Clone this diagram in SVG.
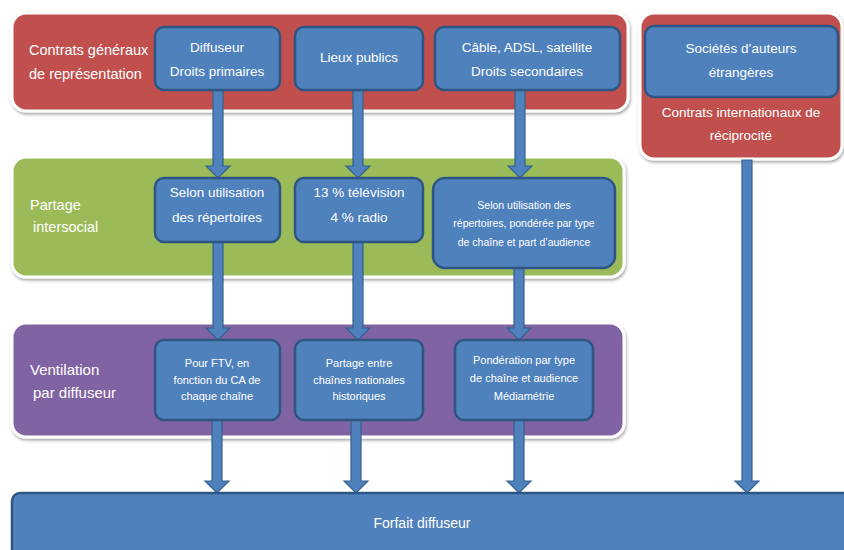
<svg xmlns="http://www.w3.org/2000/svg" width="844" height="550" viewBox="0 0 844 550">
<defs>
<filter id="sh" x="-5%" y="-5%" width="110%" height="115%">
<feDropShadow dx="1" dy="2" stdDeviation="1.5" flood-color="#000" flood-opacity="0.35"/>
</filter>
<style>
.band{stroke:#fff;stroke-width:3;filter:url(#sh)}
.red{fill:#C0504D}.green{fill:#9BBB59}.purple{fill:#8064A2}
.box{fill:#4F81BD;stroke:#2F5682;stroke-width:2.5}
.arr{fill:#4F81BD;stroke:#34608F;stroke-width:1.2}
text{font-family:"Liberation Sans",Arial,sans-serif;fill:#fff}
.lbl{font-size:14.5px}
.t13{font-size:13.5px;text-anchor:middle}
.t11{font-size:11px;text-anchor:middle}
.t10{font-size:10.5px;text-anchor:middle}
</style>
</defs>
<rect width="844" height="550" fill="#fff"/>
<g id="band-contrats">
<rect class="band red" x="12" y="13" width="616" height="98" rx="14"/>
<text class="lbl" x="29" y="55">Contrats généraux</text>
<text class="lbl" x="29" y="79">de représentation</text>
</g>
<g id="band-international">
<rect class="band red" x="640" y="13" width="202" height="146" rx="14"/>
<text class="t13" x="741" y="117">Contrats internationaux de</text>
<text class="t13" x="741" y="140">réciprocité</text>
</g>
<g id="band-partage">
<rect class="band green" x="12" y="157" width="612" height="120" rx="14"/>
<text class="lbl" x="30" y="210">Partage</text>
<text class="lbl" x="33" y="232">intersocial</text>
</g>
<g id="band-ventilation">
<rect class="band purple" x="12" y="323" width="612" height="114" rx="14"/>
<text class="lbl" x="30" y="375" style="font-size:15px">Ventilation</text>
<text class="lbl" x="33" y="398" style="font-size:15px">par diffuseur</text>
</g>
<g id="connectors">
<polygon class="arr" points="213,90 223,90 223,166 230,166 218,178 206,166 213,166"/>
<polygon class="arr" points="353,90 363,90 363,166 370,166 358,178 346,166 353,166"/>
<polygon class="arr" points="515,90 525,90 525,166 532,166 520,178 508,166 515,166"/>
<polygon class="arr" points="213,242 223,242 223,328 230,328 218,340 206,328 213,328"/>
<polygon class="arr" points="353,242 363,242 363,328 370,328 358,340 346,328 353,328"/>
<polygon class="arr" points="514,268 524,268 524,328 531,328 519,340 507,328 514,328"/>
<polygon class="arr" points="212,420 222,420 222,481 229,481 217,493 205,481 212,481"/>
<polygon class="arr" points="351,420 361,420 361,481 368,481 356,493 344,481 351,481"/>
<polygon class="arr" points="514,420 524,420 524,481 531,481 519,493 507,481 514,481"/>
<polygon class="arr" points="742,160 752,160 752,481 759,481 747,493 735,481 742,481"/>
</g>
<g id="n-diffuseur">
<rect class="box" x="155" y="27" width="125" height="63" rx="9"/>
<text class="t13" x="217" y="52">Diffuseur</text>
<text class="t13" x="217" y="76">Droits primaires</text>
</g>
<g id="n-lieux">
<rect class="box" x="295" y="27" width="128" height="63" rx="9"/>
<text class="t13" x="359" y="62">Lieux publics</text>
</g>
<g id="n-cable">
<rect class="box" x="435" y="27" width="185" height="63" rx="9"/>
<text class="t13" x="527" y="52">Câble, ADSL, satellite</text>
<text class="t13" x="527" y="76">Droits secondaires</text>
</g>
<g id="n-societes">
<rect class="box" x="645" y="26" width="193" height="71" rx="9"/>
<text class="t13" x="741" y="53">Sociétés d’auteurs</text>
<text class="t13" x="741" y="77">étrangères</text>
</g>
<g id="n-selon1">
<rect class="box" x="155" y="178" width="125" height="64" rx="9"/>
<text class="t13" x="217" y="197">Selon utilisation</text>
<text class="t13" x="217" y="222">des répertoires</text>
</g>
<g id="n-pct">
<rect class="box" x="295" y="178" width="128" height="64" rx="9"/>
<text class="t13" x="359" y="197">13 % télévision</text>
<text class="t13" x="359" y="222">4 % radio</text>
</g>
<g id="n-selon2">
<rect class="box" x="433" y="178" width="182" height="90" rx="12"/>
<text class="t10" x="524" y="209">Selon utilisation des</text>
<text class="t10" x="524" y="227">répertoires, pondérée par type</text>
<text class="t10" x="524" y="246">de chaîne et part d’audience</text>
</g>
<g id="n-ftv">
<rect class="box" x="155" y="340" width="125" height="80" rx="9"/>
<text class="t11" x="217" y="367">Pour FTV, en</text>
<text class="t11" x="217" y="384">fonction du CA de</text>
<text class="t11" x="217" y="400">chaque chaîne</text>
</g>
<g id="n-partage-chaines">
<rect class="box" x="295" y="340" width="128" height="80" rx="9"/>
<text class="t11" x="359" y="367">Partage entre</text>
<text class="t11" x="359" y="384">chaînes nationales</text>
<text class="t11" x="359" y="400">historiques</text>
</g>
<g id="n-ponderation">
<rect class="box" x="455" y="340" width="138" height="80" rx="9"/>
<text class="t11" x="524" y="364">Pondération par type</text>
<text class="t11" x="524" y="382">de chaîne et audience</text>
<text class="t11" x="524" y="400">Médiamétrie</text>
</g>
<g id="n-forfait">
<rect class="box" x="12" y="493" width="845" height="70" rx="8"/>
<text class="t13" x="422" y="528" style="font-size:14px">Forfait diffuseur</text>
</g>
</svg>
